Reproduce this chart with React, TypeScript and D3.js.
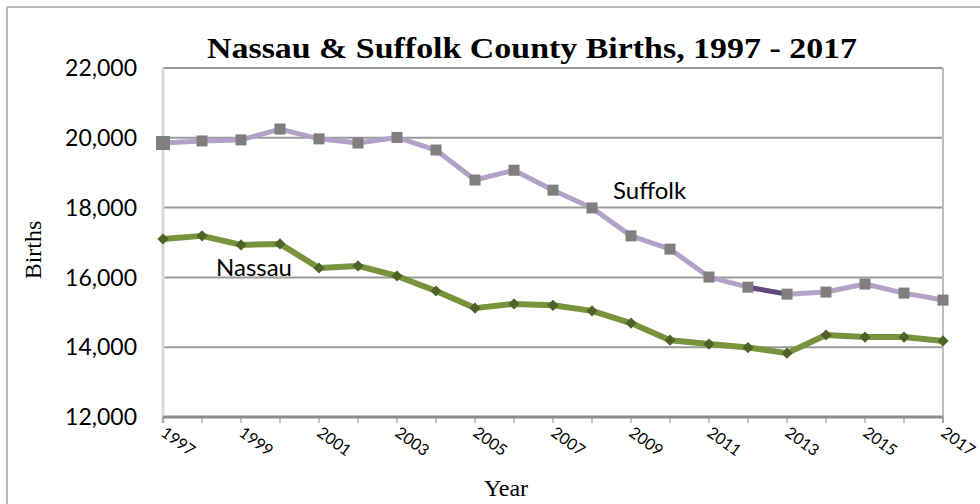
import React from "react";
import * as d3 from "d3";

const years = d3.range(1997, 2018);
const suffolk = [19850, 19910, 19940, 20250, 19970, 19850, 20010, 19650, 18790, 19070, 18500, 17990, 17190, 16810, 16010, 15720, 15520, 15580, 15810, 15550, 15350];
const nassau = [17100, 17190, 16930, 16960, 16270, 16330, 16040, 15610, 15120, 15240, 15200, 15040, 14690, 14200, 14090, 13990, 13830, 14350, 14290, 14290, 14180];
const yTicks = [12000, 14000, 16000, 18000, 20000, 22000];
const xLabelYears = years.filter((y) => (y - 1997) % 2 === 0);

const W = 980, H = 504;

export default function App() {
  const x = d3.scaleLinear().domain([1997, 2017]).range([163, 943]);
  const y = d3.scaleLinear().domain([12000, 22000]).range([417, 68]);
  const line = d3.line<[number, number]>().x((d) => x(d[0])).y((d) => y(d[1]));
  const sData: [number, number][] = years.map((yr, i) => [yr, suffolk[i]]);
  const nData: [number, number][] = years.map((yr, i) => [yr, nassau[i]]);
  const darkSeg = sData.slice(15, 17);
  const diamond = d3.symbol().type(d3.symbolDiamond2).size(80)();
  const sans = "Lato, 'Open Sans', sans-serif";
  const serif = "'Liberation Serif', 'DejaVu Serif', serif";
  return (
    <svg width={W} height={H} style={{ position: "absolute", left: 0, top: 0, background: "#fff" }}>
      <rect x={0} y={0} width={W} height={H} fill="#fff" />
      <line x1={7} x2={W} y1={7} y2={7} stroke="#b8b8b8" strokeWidth={2} />
      <line x1={7} x2={7} y1={7} y2={H} stroke="#b8b8b8" strokeWidth={2} />
      <text x={207} y={58} fontFamily={serif} fontWeight="bold" fontSize={30} textLength={650} lengthAdjust="spacingAndGlyphs">
        Nassau &amp; Suffolk County Births, 1997 - 2017
      </text>
      {yTicks.map((t) => (
        <g key={t}>
          {t !== 12000 && (
            <line x1={163} x2={943} y1={y(t)} y2={y(t)} stroke="#9a9a9a" strokeWidth={2} />
          )}
          <text x={137} y={y(t)} dy="0.36em" textAnchor="end" fontFamily={sans} fontSize={23} fill="#000">
            {d3.format(",")(t)}
          </text>
        </g>
      ))}
      <line x1={163} x2={163} y1={68} y2={423} stroke="#d9d9d9" strokeWidth={3} />
      <line x1={943} x2={943} y1={68} y2={423} stroke="#bdbdbd" strokeWidth={2} />
      <line x1={163} x2={943} y1={417} y2={417} stroke="#8c8c8c" strokeWidth={3} />
      {years.map((yr) => (
        <line key={yr} x1={x(yr)} x2={x(yr)} y1={417} y2={423} stroke="#8c8c8c" strokeWidth={1} />
      ))}
      {xLabelYears.map((yr) => (
        <text
          key={yr}
          transform={`translate(${x(yr) - 3},${435}) rotate(36)`}
          fontFamily={sans}
          fontSize={16}
          fill="#000"
        >
          {yr}
        </text>
      ))}
      <text transform="translate(41,250) rotate(-90)" textAnchor="middle" fontFamily={serif} fontSize={24}>
        Births
      </text>
      <text x={506} y={496} textAnchor="middle" fontFamily={serif} fontSize={24}>
        Year
      </text>
      <path d={line(nData) || ""} fill="none" stroke="#77933c" strokeWidth={6} strokeLinejoin="round" />
      <path d={line(sData) || ""} fill="none" stroke="#b3a2c7" strokeWidth={5} strokeLinejoin="round" />
      <path d={line(darkSeg) || ""} fill="none" stroke="#604a7b" strokeWidth={5} />
      {nData.map((d) => (
        <path key={d[0]} d={diamond || ""} transform={`translate(${x(d[0])},${y(d[1])})`} fill="#4f6228" />
      ))}
      {sData.map((d, i) => {
        const s = i === 0 ? 14 : 11;
        return <rect key={d[0]} x={x(d[0]) - s / 2} y={y(d[1]) - s / 2} width={s} height={s} fill="#7f7f7f" />;
      })}
      <text x={613} y={199} fontFamily={sans} fontSize={24} fill="#000">Suffolk</text>
      <text x={216} y={276} fontFamily={sans} fontSize={24} fill="#000">Nassau</text>
    </svg>
  );
}
